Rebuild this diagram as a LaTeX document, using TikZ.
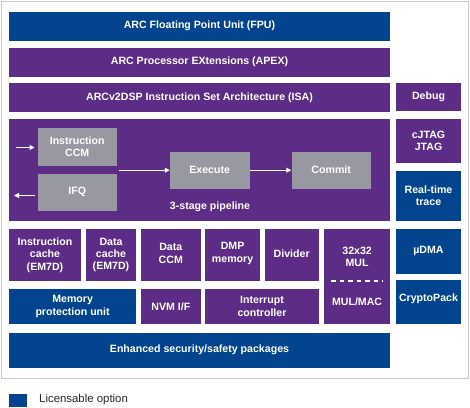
\documentclass[tikz,border=0pt]{standalone}
\usepackage{fontspec}
\setmainfont{Liberation Sans}
\usetikzlibrary{arrows.meta}
\definecolor{lblue}{RGB}{3,68,142}
\definecolor{cpurple}{RGB}{92,44,134}
\definecolor{igray}{RGB}{152,152,162}
\definecolor{fgray}{RGB}{200,200,200}
\definecolor{ltext}{RGB}{40,40,40}
\tikzset{
  blk/.style={draw=none, text=white, align=center, font=\fontsize{10.6}{12.3}\selectfont\bfseries, inner sep=0pt},
  lic/.style={blk, fill=lblue},
  std/.style={blk, fill=cpurple},
  inner/.style={blk, fill=igray},
  warr/.style={draw=white, line width=1pt, -{Triangle[length=5pt,width=5pt]}},
}
\begin{document}
\begin{tikzpicture}[x=1pt,y=-1pt]
\useasboundingbox (0,0) rectangle (470,407);
\fill[white] (0,0) rectangle (470,407);
\draw[fgray, line width=1.5pt] (1.5,1.5) rectangle (468.5,378.5);
% rows
\fill[lblue] (9,12) rectangle (390,40.5);
\node[lic, fill=none] (fpu) at (199.5,26.2) {ARC Floating Point Unit (FPU)};
\fill[cpurple] (9,47.5) rectangle (390,76.5);
\node[std, fill=none] (apex) at (199.5,62) {ARC Processor EXtensions (APEX)};
\fill[cpurple] (9,83) rectangle (390,112);
\node[std, fill=none] (isa) at (199.5,97.5) {ARCv2DSP Instruction Set Architecture (ISA)};
\fill[cpurple] (396,82.5) rectangle (461,110.5);
\node[std, fill=none] (debug) at (428.5,96.5) {Debug};
% pipeline
\fill[cpurple] (9,118.5) rectangle (390,221);
\fill[igray] (37.5,127.5) rectangle (117,165.5);
\node[inner, fill=none] (iccm) at (77.2,146.5) {Instruction\\CCM};
\fill[igray] (37.5,173.5) rectangle (117,211);
\node[inner, fill=none] (ifq) at (77.2,192.2) {IFQ};
\fill[igray] (170,152) rectangle (249.5,188.5);
\node[inner, fill=none, minimum width=79.5pt, minimum height=36.5pt] (exec) at (209.7,170.2) {Execute};
\fill[igray] (291.5,152) rectangle (371,188.5);
\node[inner, fill=none, minimum width=79.5pt, minimum height=36.5pt] (commit) at (331.2,170.2) {Commit};
\node[std, fill=none] (pipe) at (210,206.5) {3-stage pipeline};
\coordinate (inA) at (16,147.5);
\coordinate (inB) at (34.5,147.5);
\coordinate (outA) at (35,195.5);
\coordinate (outB) at (14,195.5);
\coordinate (mA) at (119,170.2);
\draw[warr] (inA) -- (inB);
\draw[warr] (outA) -- (outB);
\draw[warr] (mA) -- (exec.west);
\draw[warr] (exec.east) -- (commit.west);
% right column
\fill[cpurple] (396,119) rectangle (461,162.5);
\node[std, fill=none] (jtag) at (428.5,140.7) {cJTAG\\JTAG};
\fill[lblue] (396,170.5) rectangle (461,221);
\node[lic, fill=none] (trace) at (428.5,195.7) {Real-time\\trace};
\fill[lblue] (396,229) rectangle (461,273.5);
\node[lic, fill=none] (udma) at (428.5,251.2) {µDMA};
\fill[lblue] (396,280) rectangle (461,324);
\node[lic, fill=none] (crypto) at (428.5,299) {CryptoPack};
% bottom area row 1
\fill[cpurple] (9.3,229) rectangle (80.7,281);
\node[std, fill=none] (icache) at (45,255) {Instruction\\cache\\(EM7D)};
\fill[cpurple] (86,229) rectangle (136,281);
\node[std, fill=none] (dcache) at (111,255) {Data\\cache\\(EM7D)};
\fill[cpurple] (141,229) rectangle (200.7,281);
\node[std, fill=none] (dccm) at (170.8,253.5) {Data\\CCM};
\fill[cpurple] (205.3,229) rectangle (260,281);
\node[std, fill=none] (dmp) at (232.6,253.5) {DMP\\memory};
\fill[cpurple] (264.7,229) rectangle (318.7,281);
\node[std, fill=none] (div) at (291.7,254) {Divider};
\fill[cpurple] (324,229) rectangle (390.3,324);
\node[std, fill=none] (mul) at (357.1,257) {32x32\\MUL};
\node[std, fill=none] (mac) at (357.1,301.5) {MUL/MAC};
\coordinate (dA) at (331,281);
\coordinate (dB) at (383,281);
\draw[white, line width=1.2pt, dash pattern=on 4.5pt off 4pt] (dA) -- (dB);
% row 2
\fill[lblue] (9.3,289) rectangle (136,324);
\node[lic, fill=none] (mpu) at (72.6,306.5) {Memory\\protection unit};
\fill[cpurple] (141,289) rectangle (200.7,324);
\node[std, fill=none] (nvm) at (170.8,306.5) {NVM I/F};
\fill[cpurple] (205.3,289) rectangle (318.7,324);
\node[std, fill=none] (intc) at (262,306.5) {Interrupt\\controller};
% enhanced
\fill[lblue] (9,332.5) rectangle (390,367.5);
\node[lic, fill=none] (enh) at (199.5,350) {Enhanced security/safety packages};
% legend
\fill[lblue] (9.3,394) rectangle (26.7,407);
\node[anchor=west, inner sep=0pt, text=ltext, font=\fontsize{11.4}{13}\selectfont] (leg) at (39,400) {Licensable option};
\end{tikzpicture}
\end{document}
